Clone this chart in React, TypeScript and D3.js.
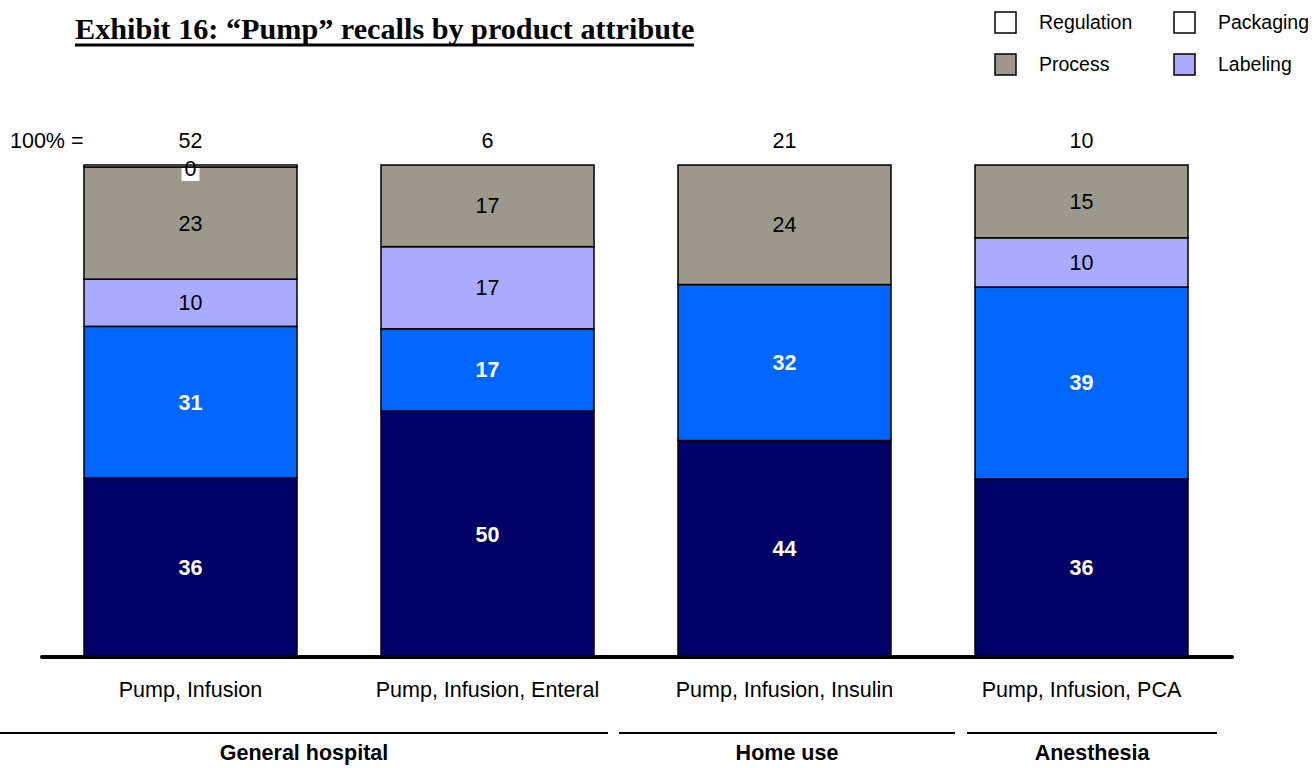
import React from "react";
import * as d3 from "d3";

const categories = ["Pump, Infusion", "Pump, Infusion, Enteral", "Pump, Infusion, Insulin", "Pump, Infusion, PCA"];
const totals = [52, 6, 21, 10];
// stacked from bottom to top
const seriesNames = ["Base", "Design", "Labeling", "Process", "Regulation"];
const baseValues = [36.4, 50, 44, 36.2];
const designValues = [30.8, 16.7, 31.7, 39];
const labelingValues = [9.6, 16.7, 0, 10];
const processValues = [22.8, 16.6, 24.3, 14.8];
const regulationValues = [0.4, 0, 0, 0];
const seriesColors = ["#000066", "#0066FF", "#AAAAFF", "#9C998C", "#FFFFFF"];
const legendItems = [
  { name: "Regulation", color: "#FFFFFF" },
  { name: "Packaging", color: "#FFFFFF" },
  { name: "Process", color: "#9C998C" },
  { name: "Labeling", color: "#AAAAFF" },
];
const groups = ["General hospital", "Home use", "Anesthesia"];
const groupLineExtents = [
  [0, 608],
  [619, 955],
  [967, 1217],
];

export default function App() {
  const seriesValues = [baseValues, designValues, labelingValues, processValues, regulationValues];
  const x = d3
    .scaleBand<string>()
    .domain(categories)
    .range([42, 1230])
    .paddingInner(84 / 297)
    .paddingOuter(42 / 297);
  const y = d3.scaleLinear().domain([0, 100]).range([657, 165]);

  const rows = categories.map((c, i) => {
    const r: any = { cat: c };
    seriesNames.forEach((s, k) => (r[s] = seriesValues[k][i]));
    return r;
  });
  const stacked = d3.stack<any>().keys(seriesNames)(rows);
  const font = "'Liberation Sans', Arial, sans-serif";
  const fmt = (v: number) => String(Math.round(v));
  const fs = 21.5;

  return (
    <svg
      width={1314}
      height={768}
      style={{ position: "absolute", left: 0, top: 0, background: "#fff" }}
      fontFamily={font}
    >
      {/* Title */}
      <text
        x={75}
        y={39}
        fontFamily="'Liberation Serif', 'Times New Roman', serif"
        fontWeight="bold"
        fontSize={30.2}
        fill="#000"
      >
        Exhibit 16: “Pump” recalls by product attribute
      </text>
      <line x1={75} x2={694} y1={45} y2={45} stroke="#000" strokeWidth={3} />

      {/* Legend */}
      {legendItems.map((l, i) => {
        const col = i % 2;
        const row = Math.floor(i / 2);
        const sx = col === 0 ? 995 : 1174;
        const sy = row === 0 ? 12 : 54;
        return (
          <g key={l.name}>
            <rect x={sx} y={sy} width={21} height={21} fill={l.color} stroke="#000" strokeWidth={1.5} />
            <text x={sx + 44} y={sy + 17} fontSize={19.5} fill="#000">
              {l.name}
            </text>
          </g>
        );
      })}

      {/* 100% = totals */}
      <text x={10} y={148} fontSize={fs} fill="#000">
        100% =
      </text>
      {categories.map((c, i) => (
        <text key={c} x={x(c)! + x.bandwidth() / 2} y={148} fontSize={fs} textAnchor="middle" fill="#000">
          {totals[i]}
        </text>
      ))}

      {/* Bars */}
      {stacked.map((layer, k) =>
        layer.map((d, i) => {
          const v = d[1] - d[0];
          const cat = categories[i];
          const x0 = x(cat)!;
          if (v <= 0) return null;
          return (
            <rect
              key={`${k}-${i}`}
              x={x0}
              y={y(d[1])}
              width={x.bandwidth()}
              height={y(d[0]) - y(d[1])}
              fill={seriesColors[k]}
              stroke="#000"
              strokeWidth={1.5}
            />
          );
        })
      )}

      {/* Segment labels */}
      {stacked.map((layer, k) =>
        layer.map((d, i) => {
          const v = d[1] - d[0];
          const cat = categories[i];
          if (v <= 0) return null;
          const cx = x(cat)! + x.bandwidth() / 2;
          const dark = k < 2;
          const small = y(d[0]) - y(d[1]) < 10;
          if (small) {
            return (
              <g key={`l-${k}-${i}`}>
                <rect x={cx - 9} y={y(d[0]) + 1} width={18} height={13} fill="#fff" />
                <text x={cx} y={y(d[0]) + 9} fontSize={fs} textAnchor="middle" fill="#000">
                  {fmt(v)}
                </text>
              </g>
            );
          }
          return (
            <text
              key={`l-${k}-${i}`}
              x={cx}
              y={(y(d[0]) + y(d[1])) / 2 + 7.5}
              fontSize={fs}
              textAnchor="middle"
              fontWeight={dark ? "bold" : "normal"}
              fill={dark ? "#fff" : "#000"}
            >
              {fmt(v)}
            </text>
          );
        })
      )}

      {/* Baseline */}
      <line x1={42} x2={1232} y1={657} y2={657} stroke="#000" strokeWidth={4} strokeLinecap="round" />

      {/* Category labels */}
      {categories.map((c) => (
        <text key={c} x={x(c)! + x.bandwidth() / 2} y={697} fontSize={fs} textAnchor="middle" fill="#000">
          {c}
        </text>
      ))}

      {/* Group lines & labels */}
      {groups.map((g, i) => {
        const [a, b] = groupLineExtents[i];
        return (
          <g key={g}>
            <line x1={a} x2={b} y1={733} y2={733} stroke="#000" strokeWidth={2} />
            <text x={(a + b) / 2} y={760} fontSize={fs} fontWeight="bold" textAnchor="middle" fill="#000">
              {g}
            </text>
          </g>
        );
      })}
    </svg>
  );
}
